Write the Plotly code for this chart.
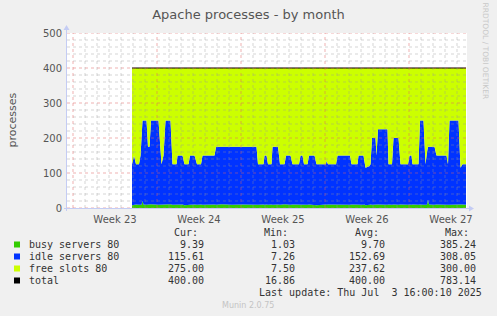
import numpy as np
import pandas as pd
import plotly.graph_objects as go

# ---------------- data ----------------
# sample times: hours since 2025-05-31 12:00
hours = [130, 134, 138, 144, 147, 149, 151, 153,
         159, 162, 165, 168, 183, 189, 193, 197,
         207, 211, 219, 221, 231, 235, 243, 246,
         255, 260, 268, 271, 295, 298, 310, 330,
         350, 370, 379, 382, 393, 395, 399, 402,
         409, 411, 422, 426, 435, 438, 447, 451,
         464, 467, 471, 474, 481, 484, 495, 499,
         518, 519, 522, 538, 541, 566, 569, 581,
         583, 593, 595, 597, 605, 607, 610, 617,
         619, 622, 641, 643, 650, 653, 663, 667,
         682, 685, 689, 691, 703, 706, 713, 717,
         720, 722, 724, 735, 739, 759, 762, 765,
         783, 787, 791, 798]

busy = [8, 9, 10, 9, 10, 9, 20, 10,
        9, 10, 9, 11, 9, 10, 9, 10,
        11, 9, 10, 9, 10, 8, 10, 9,
        10, 9, 10, 9, 10, 9, 11, 9,
        10, 9, 10, 9, 10, 9, 10, 9,
        10, 9, 10, 9, 11, 10, 9, 10,
        9, 10, 9, 10, 9, 10, 9, 8,
        10, 9, 10, 9, 10, 9, 10, 9,
        10, 9, 10, 8, 9, 10, 9, 10,
        9, 10, 9, 10, 9, 10, 9, 10,
        9, 10, 9, 10, 9, 10, 9, 10,
        9, 24, 10, 9, 10, 9, 10, 9,
        10, 9, 10, 9]

idle = [117, 141, 115, 116, 140, 191, 230, 240,
        241, 165, 166, 239, 241, 115, 141, 240,
        239, 116, 115, 141, 140, 117, 115, 141,
        140, 116, 115, 141, 140, 166, 164, 166,
        165, 166, 165, 116, 115, 141, 140, 116,
        115, 166, 165, 116, 114, 140, 141, 115,
        116, 140, 141, 115, 116, 140, 141, 117,
        115, 126, 115, 116, 140, 141, 115, 116,
        140, 141, 115, 107, 111, 115, 191, 190,
        141, 215, 216, 115, 116, 190, 191, 115,
        116, 140, 141, 115, 116, 240, 241, 115,
        151, 151, 165, 166, 140, 141, 115, 241,
        240, 106, 115, 116]

total_hours = [130, 798]
total_vals = [400, 400]

# free slots = configured total minus busy and idle servers
free = [400 - b - i for b, i in zip(busy, idle)]

week_starts = ["2025-06-01", "2025-06-08", "2025-06-15", "2025-06-22", "2025-06-29"]
week_labels = ["Week 23", "Week 24", "Week 25", "Week 26", "Week 27"]
y_ticks = [0, 100, 200, 300, 400, 500]

series_names = ["busy servers 80", "idle servers 80", "free slots 80", "total"]
series_colors = ["#33cc00", "#0033ff", "#ccff00", "#000000"]
stat_cur = ["9.39", "115.61", "275.00", "400.00"]
stat_min = ["1.03", "7.26", "7.50", "16.86"]
stat_avg = ["9.70", "152.69", "237.62", "400.00"]
stat_max = ["385.24", "308.05", "300.00", "783.14"]
last_update = "Last update: Thu Jul  3 16:00:10 2025"

# ---------------- figure ----------------
t0 = pd.Timestamp("2025-05-31 12:00")
t_end = t0 + pd.Timedelta(hours=800)
times = t0 + pd.to_timedelta(hours, unit="h")
total_times = t0 + pd.to_timedelta(total_hours, unit="h")

W, H = 497, 316
L, R, T, B = 67, 30, 33, 108
PW, PH = W - L - R, H - T - B


def px(x):
    return (x - L) / PW


def py(y):
    return (T + PH - y) / PH


fig = go.Figure()
for vals, name, col in zip([busy, idle, free], series_names[:3], series_colors[:3]):
    fig.add_trace(go.Scatter(x=times, y=vals, name=name, mode="lines",
                             stackgroup="one", line=dict(width=0, color=col),
                             fillcolor=col, hoverinfo="skip"))
fig.add_trace(go.Scatter(x=total_times, y=total_vals, name="total", mode="lines",
                         line=dict(width=1.2, color="#000000"), hoverinfo="skip"))

shapes = []
# grid (drawn above data like rrdtool)
minor_c = "rgba(150,150,150,0.40)"
major_c = "rgba(225,100,100,0.50)"
ws = pd.to_datetime(week_starts)
days = pd.date_range(ws[0], t_end, freq="D")
for d in days:
    if d in ws:
        continue
    shapes.append(dict(type="line", xref="x", yref="y", x0=d, x1=d, y0=0, y1=500,
                       line=dict(color=minor_c, width=1, dash="dot"), layer="above"))
for y in range(20, 500, 20):
    if y % 100 == 0:
        continue
    shapes.append(dict(type="line", xref="paper", yref="y", x0=0, x1=1, y0=y, y1=y,
                       line=dict(color=minor_c, width=1, dash="dot"), layer="above"))
for d in ws:
    shapes.append(dict(type="line", xref="x", yref="y", x0=d, x1=d, y0=0, y1=500,
                       line=dict(color=major_c, width=1, dash="dot"), layer="above"))
for y in y_ticks:
    shapes.append(dict(type="line", xref="paper", yref="y", x0=0, x1=1, y0=y, y1=y,
                       line=dict(color=major_c, width=1, dash="dot"), layer="above"))
# axes with arrows
axc = "#c4ccf4"
shapes.append(dict(type="line", xref="paper", yref="paper", x0=px(66.5), x1=px(66.5),
                   y0=py(211), y1=py(29), line=dict(color=axc, width=1), layer="above"))
shapes.append(dict(type="line", xref="paper", yref="paper", x0=px(64), x1=px(469),
                   y0=py(208.5), y1=py(208.5), line=dict(color=axc, width=1), layer="above"))
shapes.append(dict(type="path", xref="paper", yref="paper",
                   path=f"M {px(63.5)},{py(30)} L {px(69.5)},{py(30)} L {px(66.5)},{py(25)} Z",
                   fillcolor=axc, line=dict(width=0), layer="above"))
shapes.append(dict(type="path", xref="paper", yref="paper",
                   path=f"M {px(469)},{py(205.5)} L {px(469)},{py(211.5)} L {px(474)},{py(208.5)} Z",
                   fillcolor=axc, line=dict(width=0), layer="above"))

annotations = []
mono = "DejaVu Sans Mono"
txtc = "#333333"
row_y = [244.5, 256.5, 268.5, 280.5]
# header
for lab, xr in zip(["Cur:", "Min:", "Avg:", "Max:"], [199.5, 290, 380.5, 471]):
    annotations.append(dict(text=lab, x=px(xr), y=py(232.5), xref="paper", yref="paper",
                            xanchor="right", yanchor="middle", showarrow=False,
                            font=dict(family=mono, size=10, color=txtc)))
for i in range(4):
    yy = row_y[i]
    shapes.append(dict(type="rect", xref="paper", yref="paper", x0=px(14), x1=px(20),
                       y0=py(yy + 3), y1=py(yy - 3), fillcolor=series_colors[i],
                       line=dict(width=0)))
    annotations.append(dict(text=series_names[i], x=px(26.5), y=py(yy), xref="paper",
                            yref="paper", xanchor="left", yanchor="middle", showarrow=False,
                            font=dict(family=mono, size=10, color=txtc)))
    for vals, xr in zip([stat_cur, stat_min, stat_avg, stat_max], [206, 296.5, 387, 477.5]):
        annotations.append(dict(text=vals[i], x=px(xr), y=py(yy), xref="paper", yref="paper",
                                xanchor="right", yanchor="middle", showarrow=False,
                                font=dict(family=mono, size=10, color=txtc)))
annotations.append(dict(text=last_update, x=px(483.5), y=py(292.5), xref="paper",
                        yref="paper", xanchor="right", yanchor="middle", showarrow=False,
                        font=dict(family=mono, size=10, color=txtc)))
annotations.append(dict(text="Munin 2.0.75", x=px(248), y=py(305), xref="paper",
                        yref="paper", xanchor="center", yanchor="middle", showarrow=False,
                        font=dict(family="DejaVu Sans", size=8, color="#c4c4c4")))
annotations.append(dict(text="RRDTOOL / TOBI OETIKER", x=px(485.5), y=py(51), xref="paper",
                        yref="paper", xanchor="center", yanchor="middle", showarrow=False,
                        textangle=90,
                        font=dict(family="DejaVu Sans", size=7.5, color="#c8c8c8")))
annotations.append(dict(text="processes", x=px(11.5), y=py(120), xref="paper",
                        yref="paper", xanchor="center", yanchor="middle", showarrow=False,
                        textangle=-90,
                        font=dict(family="DejaVu Sans", size=11, color="#555555")))

label_pos = ws + pd.Timedelta(hours=84)
fig.update_layout(
    width=W, height=H,
    margin=dict(l=L, r=R, t=T, b=B, pad=0),
    paper_bgcolor="#f0f0f0", plot_bgcolor="#ffffff",
    showlegend=False,
    title=dict(text="Apache processes - by month", x=0.5, xref="container",
               xanchor="center", y=1 - 14 / H, yref="container", yanchor="middle",
               font=dict(family="DejaVu Sans", size=13, color="#555555")),
    xaxis=dict(type="date", range=[t0, t_end], tickmode="array", tickvals=label_pos,
               ticktext=week_labels, showgrid=False, zeroline=False, showline=False,
               ticks="", ticklabelstandoff=4,
               tickfont=dict(family="DejaVu Sans", size=10, color="#555555"),
               fixedrange=True),
    yaxis=dict(range=[0, 500], tickmode="array", tickvals=y_ticks,
               ticktext=[str(v) for v in y_ticks], showgrid=False, zeroline=False,
               showline=False, ticks="", ticklabelstandoff=4,
               tickfont=dict(family="DejaVu Sans", size=10, color="#555555"),
               fixedrange=True),
    shapes=shapes, annotations=annotations,
)
fig.write_html("out.html")
